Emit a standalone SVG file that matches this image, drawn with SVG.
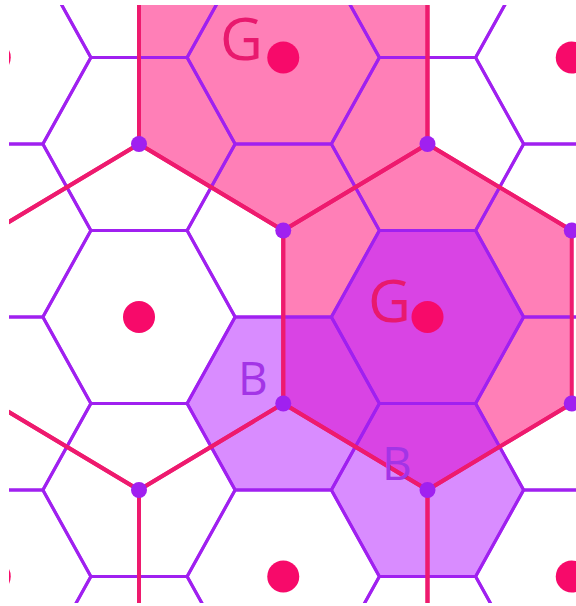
<svg xmlns="http://www.w3.org/2000/svg" xmlns:xlink="http://www.w3.org/1999/xlink" width="576" height="606" viewBox="0 0 576 606">
<style>
.sh{fill:none;stroke:#a020f0;stroke-width:3;stroke-linejoin:round}
.bh{fill:none;stroke:#ee1a6e;stroke-width:4;stroke-linejoin:round}
.pink{fill:#ff7fb7}
.lp{fill:#d98cff}
.dk{fill:#d944e4}
.vd{fill:#a020f0}
.cd{fill:#f70a6a}
.g{font-family:"Open Sans","Noto Sans",sans-serif;font-size:59px;fill:#e8196e}
.b{font-family:"Open Sans","Noto Sans",sans-serif;font-size:46px;fill:#a334e6}
</style>
<defs>
<path id="h" d="M-96,0 L-48,-86.5 L48,-86.5 L96,0 L48,86.5 L-48,86.5 Z"/>
<path id="H" d="M0,-173 L144.25,-86.5 L144.25,86.5 L0,173 L-144.25,86.5 L-144.25,-86.5 Z"/>
<clipPath id="frame"><rect x="9" y="5" width="567" height="598"/></clipPath>
<clipPath id="bigG"><use xlink:href="#H" x="427.5" y="317"/></clipPath>
</defs>
<rect width="576" height="606" fill="#ffffff"/>
<g clip-path="url(#frame)">
<g id="fills">
<use xlink:href="#H" x="283.25" y="57.5" class="pink"/>
<use xlink:href="#H" x="427.5" y="317" class="pink"/>
<use xlink:href="#h" x="283.25" y="403.5" class="lp"/>
<use xlink:href="#h" x="427.5" y="490" class="lp"/>
<g clip-path="url(#bigG)">
<use xlink:href="#h" x="283.25" y="403.5" class="dk"/>
<use xlink:href="#h" x="427.5" y="490" class="dk"/>
</g>
<use xlink:href="#h" x="427.5" y="317" class="dk"/>
</g>
<g id="small-grid">
<use xlink:href="#h" x="-5.25" y="-115.5" class="sh"/>
<use xlink:href="#h" x="-5.25" y="57.5" class="sh"/>
<use xlink:href="#h" x="-5.25" y="230.5" class="sh"/>
<use xlink:href="#h" x="-5.25" y="403.5" class="sh"/>
<use xlink:href="#h" x="-5.25" y="576.5" class="sh"/>
<use xlink:href="#h" x="-5.25" y="749.5" class="sh"/>
<use xlink:href="#h" x="139" y="-29" class="sh"/>
<use xlink:href="#h" x="139" y="144" class="sh"/>
<use xlink:href="#h" x="139" y="317" class="sh"/>
<use xlink:href="#h" x="139" y="490" class="sh"/>
<use xlink:href="#h" x="139" y="663" class="sh"/>
<use xlink:href="#h" x="283.25" y="-115.5" class="sh"/>
<use xlink:href="#h" x="283.25" y="57.5" class="sh"/>
<use xlink:href="#h" x="283.25" y="230.5" class="sh"/>
<use xlink:href="#h" x="283.25" y="403.5" class="sh"/>
<use xlink:href="#h" x="283.25" y="576.5" class="sh"/>
<use xlink:href="#h" x="283.25" y="749.5" class="sh"/>
<use xlink:href="#h" x="427.5" y="-29" class="sh"/>
<use xlink:href="#h" x="427.5" y="144" class="sh"/>
<use xlink:href="#h" x="427.5" y="317" class="sh"/>
<use xlink:href="#h" x="427.5" y="490" class="sh"/>
<use xlink:href="#h" x="427.5" y="663" class="sh"/>
<use xlink:href="#h" x="571.75" y="-115.5" class="sh"/>
<use xlink:href="#h" x="571.75" y="57.5" class="sh"/>
<use xlink:href="#h" x="571.75" y="230.5" class="sh"/>
<use xlink:href="#h" x="571.75" y="403.5" class="sh"/>
<use xlink:href="#h" x="571.75" y="576.5" class="sh"/>
<use xlink:href="#h" x="571.75" y="749.5" class="sh"/>
</g>
<g id="connectors">
<use xlink:href="#H" x="139" y="317" class="bh"/>
<use xlink:href="#H" x="427.5" y="317" class="bh"/>
<use xlink:href="#H" x="283.25" y="57.5" class="bh"/>
<use xlink:href="#H" x="283.25" y="576.5" class="bh"/>
<use xlink:href="#H" x="571.75" y="57.5" class="bh"/>
<use xlink:href="#H" x="571.75" y="576.5" class="bh"/>
<use xlink:href="#H" x="-5.25" y="57.5" class="bh"/>
<use xlink:href="#H" x="-5.25" y="576.5" class="bh"/>
</g>
<g id="vertices">
<circle cx="139" cy="144" r="8" class="vd"/>
<circle cx="427.5" cy="144" r="8" class="vd"/>
<circle cx="283.25" cy="230.5" r="8" class="vd"/>
<circle cx="283.25" cy="403.5" r="8" class="vd"/>
<circle cx="139" cy="490" r="8" class="vd"/>
<circle cx="427.5" cy="490" r="8" class="vd"/>
<circle cx="571.75" cy="230.5" r="8" class="vd"/>
<circle cx="571.75" cy="403.5" r="8" class="vd"/>
</g>
<g id="node-G1"><circle cx="283.25" cy="57.5" r="16" class="cd"/></g>
<g id="node-G2"><circle cx="427.5" cy="317" r="16" class="cd"/></g>
<g id="node-c1"><circle cx="139" cy="317" r="16" class="cd"/></g>
<g id="node-c2"><circle cx="283.25" cy="576.5" r="16" class="cd"/></g>
<g id="node-c3"><circle cx="571.75" cy="57.5" r="16" class="cd"/></g>
<g id="node-c4"><circle cx="571.75" cy="576.5" r="16" class="cd"/></g>
<g id="node-c5"><circle cx="-5.25" cy="57.5" r="16" class="cd"/></g>
<g id="node-c6"><circle cx="-5.25" cy="576.5" r="16" class="cd"/></g>
</g>
<g id="labels">
<text x="220" y="60" class="g">G</text>
<text x="368" y="322" class="g">G</text>
<text x="238" y="395" class="b">B</text>
<text x="382" y="480" class="b">B</text>
</g>
</svg>
